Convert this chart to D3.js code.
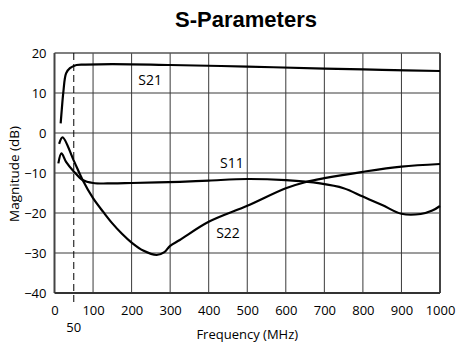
<!DOCTYPE html>
<html>
<head>
<meta charset="utf-8">
<script src="https://cdn.jsdelivr.net/npm/d3@7"></script>
<style>
  body { margin: 0; background: #fff; }
  svg { display: block; }
  .tick text { font-family: "Open Sans", sans-serif; font-size: 13px; fill: #000; }
</style>
</head>
<body>
<div id="chart"></div>
<script>
// values
const xTicks = [0, 100, 200, 300, 400, 500, 600, 700, 800, 900, 1000];
const yTicks = [-40, -30, -20, -10, 0, 10, 20];

const s21Freq = [16, 19, 23, 30, 40, 57, 80, 150, 300, 500, 700, 850, 1000];
const s21Db   = [2.4, 6, 10.3, 14.9, 16.2, 17, 17.1, 17.2, 17.0, 16.6, 16.1, 15.8, 15.5];

const s11Freq = [10, 18, 30, 50, 73, 100, 150, 200, 325, 400, 500, 600, 689, 750, 800, 850, 900, 950, 980, 1000];
const s11Db   = [-7.6, -5.1, -7.2, -9.6, -11.75, -12.5, -12.6, -12.5, -12.2, -11.9, -11.5, -11.8, -12.6, -13.8, -15.9, -18, -20.2, -20.25, -19.4, -18.25];

const s22Freq = [12, 21, 50, 73, 100, 127, 150, 175, 200, 230, 265, 285, 300, 325, 400, 500, 600, 650, 700, 800, 900, 1000];
const s22Db   = [-2.7, -1.1, -6.9, -11.75, -16.3, -19.8, -22.6, -25.2, -27.4, -29.4, -30.5, -29.8, -28.2, -26.75, -22.2, -18.2, -13.8, -12.3, -11.3, -9.7, -8.4, -7.75];

const markerFreq = 50;

const W = 458, H = 345;
const margin = { top: 53, right: 18, bottom: 52, left: 54.5 };
const width = W - margin.left - margin.right;
const height = H - margin.top - margin.bottom;

const svg = d3.select("#chart").append("svg")
  .attr("width", W)
  .attr("height", H);

// title
svg.append("text")
  .attr("x", 246)
  .attr("y", 27)
  .attr("text-anchor", "middle")
  .style("font-family", "'Liberation Sans', Arial, sans-serif")
  .style("font-weight", "bold")
  .style("font-size", "22px")
  .text("S-Parameters");

const g = svg.append("g")
  .attr("transform", `translate(${margin.left},${margin.top})`);

const x = d3.scaleLinear().domain([0, 1000]).range([0, width]);
const y = d3.scaleLinear().domain([-40, 20]).range([height, 0]);

// grid
g.append("g")
  .selectAll("line")
  .data(xTicks.slice(1, -1))
  .enter().append("line")
  .attr("x1", d => x(d)).attr("x2", d => x(d))
  .attr("y1", 0).attr("y2", height)
  .attr("stroke", "#3a3a3a")
  .attr("stroke-width", 1);

g.append("g")
  .selectAll("line")
  .data(yTicks.slice(1, -1))
  .enter().append("line")
  .attr("x1", 0).attr("x2", width)
  .attr("y1", d => y(d)).attr("y2", d => y(d))
  .attr("stroke", "#3a3a3a")
  .attr("stroke-width", 1);

// frame
g.append("line").attr("x1", 0).attr("x2", width).attr("y1", 0).attr("y2", 0)
  .attr("stroke", "#555").attr("stroke-width", 1.5);
g.append("line").attr("x1", width).attr("x2", width).attr("y1", 0).attr("y2", height)
  .attr("stroke", "#444").attr("stroke-width", 2);
g.append("line").attr("x1", 0).attr("x2", 0).attr("y1", 0).attr("y2", height)
  .attr("stroke", "#444").attr("stroke-width", 2);
g.append("line").attr("x1", 0).attr("x2", width).attr("y1", height).attr("y2", height)
  .attr("stroke", "#333").attr("stroke-width", 2);

// 50 MHz marker
g.append("line")
  .attr("x1", x(markerFreq)).attr("x2", x(markerFreq))
  .attr("y1", 0).attr("y2", height + 10)
  .attr("stroke", "#000")
  .attr("stroke-width", 1)
  .attr("stroke-dasharray", "7,4");

// axes (labels only)
const xAxis = g.append("g")
  .attr("transform", `translate(0,${height})`)
  .call(d3.axisBottom(x).tickValues(xTicks).tickFormat(d3.format("d")).tickSize(0).tickPadding(13));
xAxis.select(".domain").remove();

const yAxis = g.append("g")
  .call(d3.axisLeft(y).tickValues(yTicks).tickSize(0).tickPadding(8));
yAxis.select(".domain").remove();

g.append("text")
  .attr("x", x(markerFreq))
  .attr("y", height + 39)
  .attr("text-anchor", "middle")
  .style("font-family", "'Open Sans', sans-serif")
  .style("font-size", "13px")
  .text(markerFreq);

// axis titles
g.append("text")
  .attr("x", width / 2)
  .attr("y", height + 46)
  .attr("text-anchor", "middle")
  .style("font-family", "'Open Sans', sans-serif")
  .style("font-size", "13px")
  .text("Frequency (MHz)");

g.append("text")
  .attr("transform", "rotate(-90)")
  .attr("x", -(174 - margin.top))
  .attr("y", -36)
  .attr("text-anchor", "middle")
  .style("font-family", "'Open Sans', sans-serif")
  .style("font-size", "13.5px")
  .text("Magnitude (dB)");

// curves
const line = d3.line()
  .x(d => x(d[0]))
  .y(d => y(d[1]))
  .curve(d3.curveCatmullRom.alpha(0.5));

const series = [
  { name: "S21", freq: s21Freq, db: s21Db, lx: 248, ly: 12 },
  { name: "S11", freq: s11Freq, db: s11Db, lx: 460, ly: -8.7 },
  { name: "S22", freq: s22Freq, db: s22Db, lx: 450, ly: -26.2 }
];

series.forEach(s => {
  g.append("path")
    .datum(d3.zip(s.freq, s.db))
    .attr("fill", "none")
    .attr("stroke", "#000")
    .attr("stroke-width", 2.2)
    .attr("stroke-linejoin", "round")
    .attr("d", line);

  g.append("text")
    .attr("x", x(s.lx))
    .attr("y", y(s.ly))
    .attr("text-anchor", "middle")
    .style("font-family", "'Open Sans', sans-serif")
    .style("font-size", "14px")
    .text(s.name);
});
</script>
</body>
</html>
